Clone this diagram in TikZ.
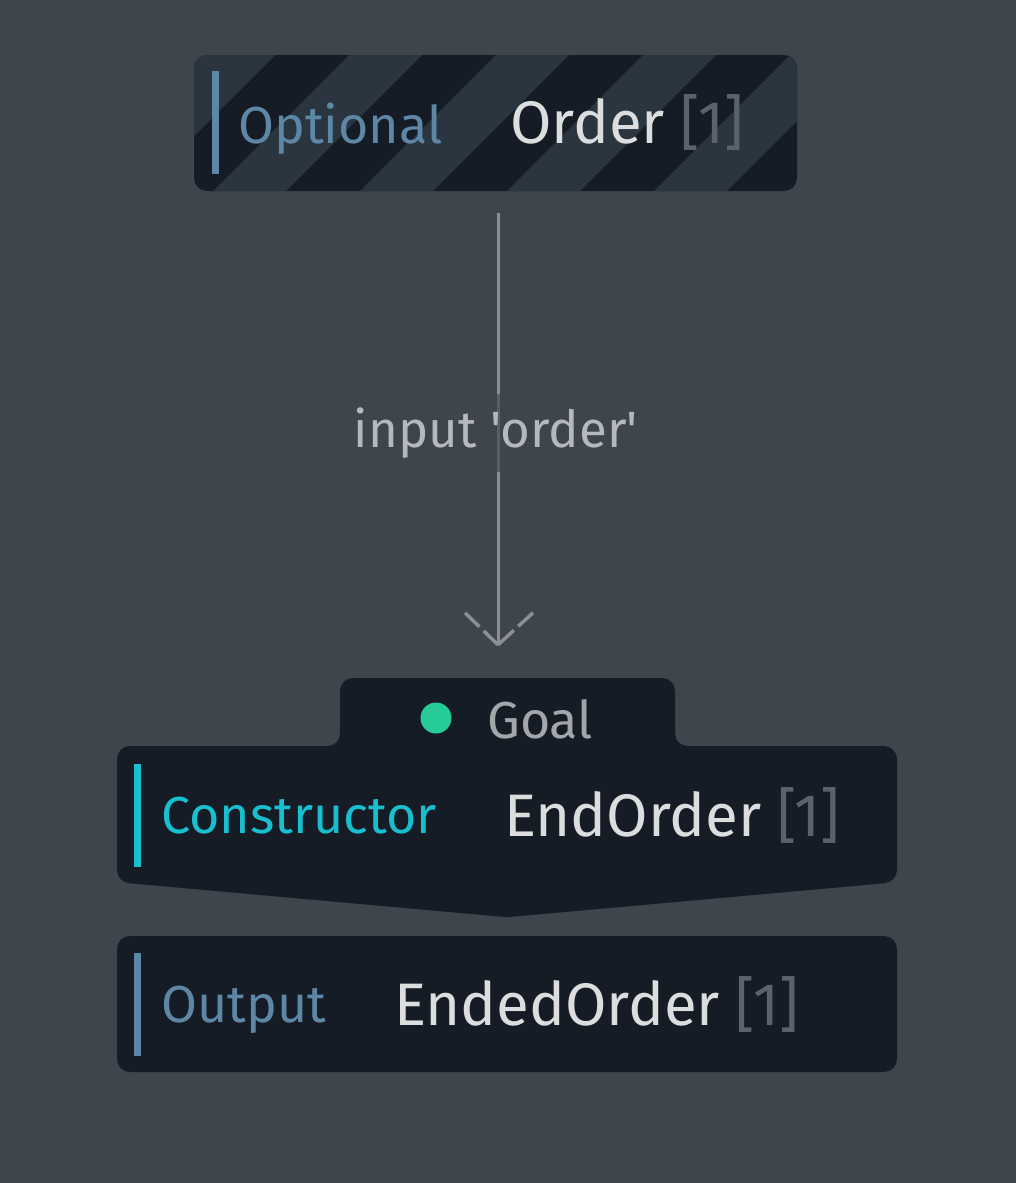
\documentclass[tikz,border=0pt]{standalone}
\usepackage{fontspec}
\setmainfont{Fira Sans}
\newfontfamily\labelfont{Fira Sans}
\usetikzlibrary{calc}
\definecolor{canvas}{HTML}{3E454D}
\definecolor{boxdark}{HTML}{151C25}
\definecolor{stripe}{HTML}{2A3540}
\definecolor{steel}{HTML}{5E87A6}
\definecolor{cyanish}{HTML}{17BFCF}
\definecolor{goalgreen}{HTML}{26CC98}
\definecolor{namegrey}{HTML}{DCDDDE}
\definecolor{countgrey}{HTML}{5B626A}
\definecolor{edgegrey}{HTML}{8C8F93}
\definecolor{labelgrey}{HTML}{B5B9BD}
\definecolor{goalgrey}{HTML}{A3A7AB}

\begin{document}
\begin{tikzpicture}[x=1pt,y=-1pt,
	card/.style={fill=boxdark,rounded corners=13pt,inner sep=0pt},
	accent/.style={minimum width=7pt,minimum height=103pt,inner sep=0pt},
	kindtext/.style={anchor=base west,inner sep=0pt,font=\fontsize{52}{58}\selectfont},
	nametext/.style={anchor=base west,inner sep=0pt,text=namegrey,font=\fontsize{60}{66}\selectfont},
	edge/.style={draw=edgegrey,line width=3pt},
	headline/.style={draw=edgegrey,line width=3.5pt,dash pattern=on 20pt off 6pt on 40pt}
]
	\fill[canvas] (0,0) rectangle (1016,1183);
	\useasboundingbox (0,0) rectangle (1016,1183);
	% optional input
	\node[card,minimum width=603pt,minimum height=136pt] (order) at (495.5,123) {};
	\begin{scope}
		\clip[rounded corners=13pt] (order.north west) rectangle (order.south east);
		\foreach \k in {1,...,5}{
			\fill[stripe] (55+147*\k,55) -- (128+147*\k,55) -- (-8+147*\k,191) -- (-81+147*\k,191) -- cycle;
		}
	\end{scope}
	\node[accent,fill=steel] (orderbar) at (215.5,122.5) {};
	\node[kindtext,text=steel] (orderkind) at (238,143) {Optional};
	\node[nametext] (ordername) at (510,143) {Order \textcolor{countgrey}{[1]}};
	% goal
	\node[card,minimum width=335pt,minimum height=82pt] (goal) at (507.5,719) {};
	\node[card,minimum width=780pt,minimum height=137pt] (endorder) at (507,814.5) {};
	\fill[boxdark] ([xshift=12pt]endorder.south west) -- ([yshift=-34pt]endorder.south) -- ([xshift=-12pt]endorder.south east) -- cycle;
	\coordinate (tabL) at (goal.west |- endorder.north);
	\coordinate (tabR) at (goal.east |- endorder.north);
	\fill[boxdark] (tabL) rectangle ++(-12,-12);
	\fill[canvas] ($(tabL)+(-12,-12)$) circle[radius=12pt];
	\fill[boxdark] (tabR) rectangle ++(12,-12);
	\fill[canvas] ($(tabR)+(12,-12)$) circle[radius=12pt];
	\node[circle,fill=goalgreen,minimum size=31pt,inner sep=0pt] (goaldot) at (436,718) {};
	\node[kindtext,text=goalgrey] (goaltext) at (487,738) {Goal};
	\node[accent,fill=cyanish] (endorderbar) at (137.5,815) {};
	\node[kindtext,text=cyanish] (endorderkind) at (161,833) {Constructor};
	\node[nametext] (endordername) at (504,836) {EndOrder \textcolor{countgrey}{[1]}};
	% output
	\node[card,minimum width=780pt,minimum height=136pt] (ended) at (507,1004) {};
	\node[accent,fill=steel] (endedbar) at (137.5,1004) {};
	\node[kindtext,text=steel] (endedkind) at (161,1022) {Output};
	\node[nametext] (endedname) at (394,1025) {EndedOrder \textcolor{countgrey}{[1]}};
	% connector
	\coordinate (tip) at ([xshift=-9.5pt,yshift=33pt]goal.north);
	\draw[edge] ([xshift=2.5pt,yshift=-22pt]order.south) -- (tip);
	\node[anchor=base,fill=canvas,fill opacity=0.65,text opacity=1,text=labelgrey,inner xsep=4pt,
		minimum height=78pt,font=\labelfont\fontsize{51}{56}\selectfont] (inputlabel) at (496,447) {input 'order'};
	\draw[headline] ($(tip)+(-33,-32)$) -- (tip);
	\draw[headline] ($(tip)+(35,-32)$) -- (tip);
\end{tikzpicture}
\end{document}
